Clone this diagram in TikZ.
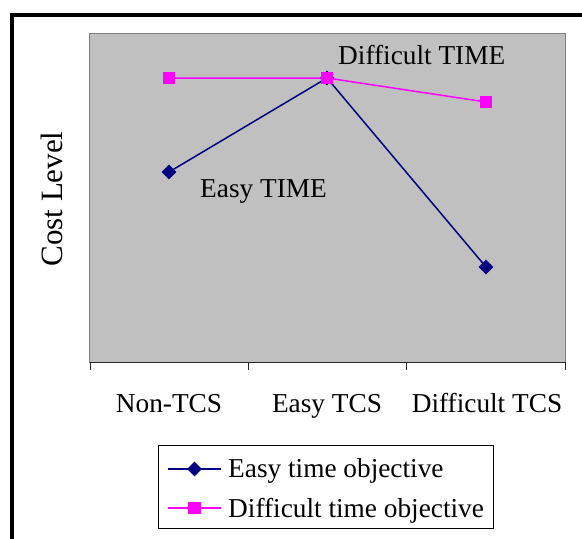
\documentclass[tikz,border=0pt]{standalone}
\usepackage{fontspec}
\setmainfont{Liberation Serif}
\usetikzlibrary{shapes.geometric}
\definecolor{navyline}{HTML}{000080}
\definecolor{pinkline}{HTML}{FF00FF}
\definecolor{plotgray}{HTML}{C0C0C0}
\definecolor{edgegray}{HTML}{808080}
\begin{document}
\begin{tikzpicture}[x=1pt,y=-1pt,
  lbl/.style={font=\fontsize{27.3}{31}\selectfont, inner sep=0pt},
  ylbl/.style={font=\fontsize{31}{34}\selectfont, inner sep=0pt, rotate=90},
  sqmark/.style={rectangle, fill=pinkline, minimum size=12.5pt, inner sep=0pt},
  dmmark/.style={diamond, fill=navyline, minimum size=15pt, inner sep=0pt},
  easyline/.style={draw=navyline, line width=1.5pt},
  hardline/.style={draw=pinkline, line width=1.5pt},
  tick/.style={draw=black!85, line width=1pt}
]
\useasboundingbox (0,0) rectangle (582,539);
\clip (0,0) rectangle (582,539);

% outer frame (runs past the right and bottom edges)
\draw[line width=3.5pt] (12,600) -- (12,15) -- (640,15);

% plot area
\draw[fill=plotgray, draw=edgegray, line width=1pt] (89.5,33) rectangle (565,362);
\draw[tick] (89.5,362) -- (565,362);
\foreach \tx in {90,248,406,565}
  \draw[tick] (\tx,362) -- (\tx,370);

% data points
\coordinate (e1) at (169,172);
\coordinate (e2) at (327,78);
\coordinate (e3) at (486,267);
\coordinate (d1) at (169,78);
\coordinate (d2) at (327,78);
\coordinate (d3) at (486,102);

% easy time objective series
\draw[easyline] (e1) -- (e2) -- (e3);
\foreach \p in {e1,e2,e3} \node[dmmark] at (\p) {};

% difficult time objective series
\draw[hardline] (d1) -- (d2) -- (d3);
\foreach \p in {d1,d2,d3} \node[sqmark] at (\p) {};

% annotations
\node[lbl, anchor=base west] (easyT) at (200,197) {Easy TIME};
\node[lbl, anchor=base west] (hardT) at (338,64) {Difficult TIME};

% category labels
\node[lbl, anchor=base] (c1) at (169,412) {Non-TCS};
\node[lbl, anchor=base] (c2) at (327,412) {Easy TCS};
\node[lbl, anchor=base] (c3) at (487,412) {Difficult TCS};

% value axis title
\node[ylbl] (yt) at (52,199) {Cost Level};

% legend
\draw[line width=0.8pt] (158,445) rectangle (493,528);
\coordinate (la1) at (168,469);
\coordinate (lb1) at (221,469);
\coordinate (la2) at (168,508);
\coordinate (lb2) at (221,508);
\draw[easyline] (la1) -- (lb1);
\node[dmmark] at (194.5,469) {};
\draw[hardline] (la2) -- (lb2);
\node[sqmark] at (194.5,508) {};
\node[lbl, anchor=base west] (leg1) at (228,477) {Easy time objective};
\node[lbl, anchor=base west] (leg2) at (228,517) {Difficult time objective};
\end{tikzpicture}
\end{document}
